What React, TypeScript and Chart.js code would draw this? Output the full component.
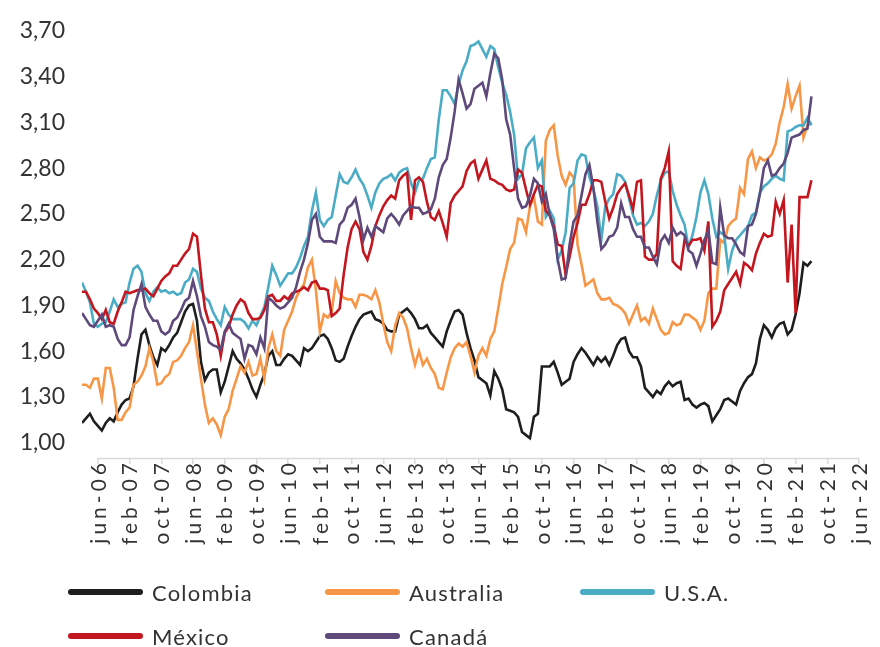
import React, { useEffect, useRef } from 'react';
import { Chart, registerables } from 'chart.js';

Chart.register(...registerables);

// Monthly observations, first value = feb-06 (month index -4 relative to jun-06), last = jun-21
const START_MONTH = -4;

const colombia = [
  1.13, 1.16, 1.19, 1.14,
  1.11, 1.08, 1.13, 1.16, 1.14, 1.20, 1.25, 1.28, 1.29, 1.37,
  1.55, 1.71, 1.74, 1.64, 1.56, 1.51, 1.62, 1.60, 1.64, 1.69,
  1.72, 1.79, 1.86, 1.90, 1.91, 1.80, 1.53, 1.41, 1.46, 1.48,
  1.48, 1.33, 1.40, 1.50, 1.60, 1.55, 1.52, 1.48, 1.42, 1.35,
  1.30, 1.38, 1.45, 1.57, 1.60, 1.51, 1.51, 1.55, 1.58, 1.57,
  1.54, 1.51, 1.62, 1.60, 1.62, 1.66, 1.70, 1.71, 1.68, 1.62,
  1.54, 1.53, 1.55, 1.63, 1.70, 1.76, 1.81, 1.84, 1.85, 1.86,
  1.81, 1.80, 1.78, 1.74, 1.73, 1.73, 1.84, 1.86, 1.88, 1.85,
  1.81, 1.75, 1.75, 1.77, 1.72, 1.69, 1.66, 1.63, 1.73, 1.80,
  1.86, 1.87, 1.84, 1.72, 1.62, 1.54, 1.43, 1.41, 1.39, 1.31,
  1.47, 1.42, 1.35, 1.22, 1.21, 1.20, 1.17, 1.07, 1.05, 1.03,
  1.17, 1.19, 1.50, 1.50, 1.50, 1.53, 1.46, 1.38, 1.40, 1.42,
  1.53, 1.58, 1.62, 1.59, 1.55, 1.51, 1.56, 1.53, 1.56, 1.51,
  1.57, 1.64, 1.68, 1.69, 1.60, 1.56, 1.56, 1.50, 1.36, 1.33,
  1.30, 1.34, 1.32, 1.37, 1.40, 1.37, 1.39, 1.40, 1.28, 1.29,
  1.25, 1.23, 1.25, 1.26, 1.24, 1.14, 1.18, 1.22, 1.28, 1.29,
  1.27, 1.25, 1.34, 1.39, 1.43, 1.45, 1.52, 1.68, 1.77, 1.74,
  1.69, 1.75, 1.78, 1.79, 1.71, 1.74, 1.84, 1.98, 2.18, 2.16, 2.19,
];

const australia = [
  1.38, 1.38, 1.36, 1.42,
  1.42, 1.29, 1.49, 1.49, 1.36, 1.15, 1.15, 1.20, 1.23, 1.38,
  1.40, 1.44, 1.50, 1.62, 1.53, 1.38, 1.39, 1.43, 1.45, 1.53,
  1.54, 1.57, 1.62, 1.66, 1.77, 1.60, 1.42, 1.25, 1.13, 1.16,
  1.12, 1.05, 1.17, 1.22, 1.34, 1.42, 1.50, 1.46, 1.53, 1.44,
  1.45, 1.55, 1.42, 1.62, 1.71, 1.60, 1.57, 1.74, 1.80, 1.86,
  1.95, 2.00, 2.04, 2.15, 2.20, 2.00, 1.73, 1.84, 1.82, 1.86,
  2.06, 1.98, 1.95, 1.94, 1.94, 1.89, 1.97, 1.97, 1.96, 1.94,
  2.00, 1.92, 1.78, 1.66, 1.60, 1.77, 1.85, 1.82, 1.75, 1.62,
  1.51, 1.60, 1.51, 1.55, 1.49, 1.45, 1.36, 1.35, 1.46, 1.56,
  1.62, 1.65, 1.63, 1.66, 1.57, 1.46, 1.57, 1.62, 1.57, 1.68,
  1.73, 1.88, 2.04, 2.15, 2.27, 2.31, 2.47, 2.46, 2.38, 2.55,
  2.61, 2.45, 2.43, 2.98, 3.05, 3.08, 2.88, 2.75, 2.69, 2.77,
  2.74, 2.30, 2.17, 2.03, 2.05, 2.07, 1.98, 1.94, 1.94, 1.95,
  1.91, 1.90, 1.88, 1.85, 1.78, 1.84, 1.90, 1.80, 1.82, 1.78,
  1.88, 1.81, 1.74, 1.71, 1.72, 1.79, 1.77, 1.78, 1.84, 1.84,
  1.82, 1.80, 1.74, 1.80, 1.98, 2.01, 2.01, 2.33, 2.31, 2.42,
  2.45, 2.47, 2.67, 2.63, 2.86, 2.91, 2.80, 2.87, 2.85, 2.86,
  2.89, 2.96, 3.10, 3.20, 3.35, 3.19, 3.27, 3.34, 3.00, 3.08, 3.10,
];

const usa = [
  2.05, 1.99, 1.92, 1.78,
  1.76, 1.78, 1.79, 1.86, 1.94, 1.89, 1.91, 1.92, 2.05, 2.14,
  2.16, 2.12, 1.98, 1.93, 1.99, 2.02, 1.99, 2.00, 1.98, 1.99,
  1.97, 1.98, 2.05, 2.07, 2.14, 2.12, 2.01, 1.95, 1.93, 1.86,
  1.81, 1.77, 1.89, 1.84, 1.81, 1.81, 1.81, 1.79, 1.75, 1.80,
  1.77, 1.83, 1.89, 2.02, 2.16, 2.10, 2.03, 2.07, 2.11, 2.11,
  2.15, 2.21, 2.29, 2.35, 2.52, 2.64, 2.46, 2.42, 2.46, 2.48,
  2.62, 2.76, 2.71, 2.70, 2.74, 2.79, 2.73, 2.69, 2.62, 2.54,
  2.64, 2.70, 2.73, 2.74, 2.76, 2.72, 2.77, 2.79, 2.80, 2.70,
  2.64, 2.72, 2.73, 2.80, 2.86, 2.87, 3.12, 3.31, 3.31, 3.27,
  3.22, 3.35, 3.44, 3.50, 3.60, 3.61, 3.63, 3.58, 3.53, 3.60,
  3.58, 3.46, 3.36, 3.28, 3.17, 3.02, 2.73, 2.76, 2.93, 2.97,
  3.00, 2.80, 2.85, 2.48, 2.52, 2.47, 2.20, 2.26, 2.38, 2.67,
  2.70, 2.85, 2.89, 2.88, 2.74, 2.66, 2.55, 2.33, 2.55, 2.60,
  2.63, 2.76, 2.75, 2.71, 2.60, 2.49, 2.43, 2.44, 2.42, 2.45,
  2.50, 2.62, 2.72, 2.77, 2.78, 2.65, 2.56, 2.49, 2.43, 2.28,
  2.36, 2.48, 2.64, 2.72, 2.63, 2.47, 2.35, 2.38, 2.36, 2.14,
  2.26, 2.33, 2.36, 2.39, 2.42, 2.49, 2.51, 2.64, 2.68, 2.70,
  2.73, 2.75, 2.73, 2.72, 3.04, 3.05, 3.07, 3.08, 3.08, 3.13, 3.08,
];

const mexico = [
  1.99, 1.99, 1.94, 1.88,
  1.85, 1.81, 1.87, 1.79, 1.78, 1.86, 1.92, 1.99, 1.98, 1.99,
  2.00, 2.00, 2.01, 1.98, 1.96, 2.01, 2.06, 2.09, 2.11, 2.16,
  2.16, 2.20, 2.24, 2.27, 2.37, 2.35, 2.10, 1.88, 1.79, 1.79,
  1.71, 1.57, 1.72, 1.76, 1.84, 1.90, 1.94, 1.92, 1.85, 1.81,
  1.81, 1.82, 1.87, 1.96, 1.97, 1.93, 1.93, 1.96, 1.94, 1.98,
  1.99, 2.00, 2.02, 2.00, 2.05, 2.06, 2.01, 2.01, 2.00, 1.83,
  1.85, 1.88, 2.10, 2.28, 2.40, 2.45, 2.40, 2.25, 2.20, 2.29,
  2.42, 2.49, 2.55, 2.59, 2.62, 2.60, 2.72, 2.75, 2.77, 2.46,
  2.72, 2.74, 2.71, 2.58, 2.48, 2.46, 2.52, 2.44, 2.35, 2.57,
  2.62, 2.65, 2.68, 2.78, 2.83, 2.85, 2.73, 2.79, 2.85, 2.73,
  2.72, 2.70, 2.69, 2.66, 2.65, 2.66, 2.79, 2.77, 2.66, 2.56,
  2.63, 2.69, 2.68, 2.52, 2.49, 2.42, 2.30, 2.29, 2.10, 2.22,
  2.35, 2.44, 2.56, 2.56, 2.63, 2.72, 2.72, 2.71, 2.58, 2.47,
  2.54, 2.63, 2.67, 2.70, 2.62, 2.53, 2.71, 2.72, 2.22, 2.20,
  2.20, 2.24, 2.73, 2.80, 2.91, 2.19, 2.16, 2.14, 2.33, 2.29,
  2.33, 2.33, 2.34, 2.26, 2.45, 1.76, 1.80, 1.86, 2.00, 2.04,
  2.08, 2.12, 2.04, 2.18, 2.16, 2.13, 2.24, 2.31, 2.37, 2.35,
  2.36, 2.58, 2.50, 2.59, 2.05, 2.43, 1.85, 2.61, 2.61, 2.61, 2.72,
];

const canada = [
  1.85, 1.81, 1.77, 1.76,
  1.80, 1.84, 1.76, 1.77, 1.76, 1.68, 1.64, 1.64, 1.69, 1.87,
  1.96, 2.04, 1.89, 1.84, 1.80, 1.80, 1.73, 1.71, 1.73, 1.80,
  1.82, 1.87, 1.93, 1.95, 2.06, 1.96, 1.83, 1.76, 1.66, 1.64,
  1.63, 1.61, 1.73, 1.78, 1.72, 1.70, 1.68, 1.55, 1.64, 1.63,
  1.58, 1.69, 1.62, 1.95, 1.93, 1.90, 1.88, 1.89, 1.92, 1.95,
  2.02, 2.12, 2.20, 2.31, 2.46, 2.50, 2.35, 2.32, 2.32, 2.32,
  2.31, 2.43, 2.46, 2.54, 2.56, 2.60, 2.48, 2.33, 2.41, 2.35,
  2.42, 2.40, 2.38, 2.47, 2.50, 2.47, 2.43, 2.49, 2.52, 2.55,
  2.54, 2.54, 2.50, 2.51, 2.53, 2.60, 2.74, 2.82, 2.86, 3.00,
  3.17, 3.38, 3.29, 3.19, 3.22, 3.32, 3.34, 3.36, 3.27, 3.42,
  3.55, 3.52, 3.38, 3.12, 3.02, 2.80, 2.60, 2.54, 2.55, 2.62,
  2.73, 2.70, 2.58, 2.63, 2.49, 2.40, 2.20, 2.07, 2.08, 2.30,
  2.45, 2.49, 2.62, 2.76, 2.82, 2.67, 2.45, 2.27, 2.30, 2.35,
  2.36, 2.41, 2.57, 2.48, 2.48, 2.40, 2.35, 2.35, 2.28, 2.28,
  2.22, 2.17, 2.32, 2.36, 2.31, 2.41, 2.36, 2.38, 2.36, 2.26,
  2.24, 2.16, 2.24, 2.33, 2.39, 2.18, 2.17, 2.54, 2.36, 2.34,
  2.34, 2.30, 2.25, 2.23, 2.42, 2.43, 2.50, 2.63, 2.80, 2.85,
  2.75, 2.76, 2.80, 2.83, 2.90, 3.00, 3.01, 3.02, 3.05, 3.06, 3.27,
];

const xTickLabels = [
  'jun-06', 'feb-07', 'oct-07', 'jun-08', 'feb-09', 'oct-09', 'jun-10', 'feb-11', 'oct-11',
  'jun-12', 'feb-13', 'oct-13', 'jun-14', 'feb-15', 'oct-15', 'jun-16', 'feb-17', 'oct-17',
  'jun-18', 'feb-19', 'oct-19', 'jun-20', 'feb-21', 'oct-21', 'jun-22',
];
const xTickStep = 8; // months between labels
const yTicks = [1.0, 1.3, 1.6, 1.9, 2.2, 2.5, 2.8, 3.1, 3.4, 3.7];

const seriesNames = ['Colombia', 'Australia', 'U.S.A.', 'México', 'Canadá'];
const seriesColors = ['#1e1e1e', '#F79646', '#4BACC6', '#C3161F', '#5F497A'];
const seriesValues = [colombia, australia, usa, mexico, canada];

const FONT = 'Lato, "Open Sans", sans-serif';
const TEXT_COLOR = '#333333';

const xLabelsPlugin = {
  id: 'xLabelsPlugin',
  afterDraw(chart: any) {
    const { ctx, chartArea, scales } = chart;
    const xs = scales.x;
    ctx.save();
    // axis line
    ctx.strokeStyle = '#d9d9d9';
    ctx.lineWidth = 1.5;
    ctx.beginPath();
    ctx.moveTo(xs.getPixelForValue(0), chartArea.bottom + 0.5);
    ctx.lineTo(xs.getPixelForValue((xTickLabels.length - 1) * xTickStep), chartArea.bottom + 0.5);
    ctx.stroke();
    // rotated labels
    ctx.fillStyle = TEXT_COLOR;
    ctx.font = '21px ' + FONT;
    (ctx as any).letterSpacing = '4px';
    ctx.textAlign = 'right';
    ctx.textBaseline = 'middle';
    xTickLabels.forEach((lab, i) => {
      const px = xs.getPixelForValue(i * xTickStep);
      ctx.save();
      ctx.translate(px + 1, chartArea.bottom + 1);
      ctx.rotate(-Math.PI / 2);
      ctx.fillText(lab, 0, 0);
      ctx.restore();
    });
    ctx.restore();
  },
};

export default function App() {
  const canvasRef = useRef<HTMLCanvasElement | null>(null);

  useEffect(() => {
    const canvas = canvasRef.current;
    if (!canvas) return;
    const datasets = seriesValues.map((vals, si) => ({
      label: seriesNames[si],
      data: vals.map((v, k) => ({ x: START_MONTH + k, y: v })),
      borderColor: seriesColors[si],
      backgroundColor: seriesColors[si],
      borderWidth: 2.6,
      pointRadius: 0,
      tension: 0,
      fill: false,
      order: seriesValues.length - si,
    }));
    const chart = new Chart(canvas, {
      type: 'line',
      data: { datasets },
      plugins: [xLabelsPlugin],
      options: {
        animation: false,
        responsive: false,
        devicePixelRatio: 1,
        layout: { padding: { left: 0, right: 21, top: 22, bottom: 0 } },
        plugins: { legend: { display: false }, tooltip: { enabled: false } },
        scales: {
          x: {
            type: 'linear',
            min: START_MONTH,
            max: (xTickLabels.length - 1) * xTickStep,
            afterBuildTicks: (scale: any) => {
              scale.ticks = xTickLabels.map((_, i) => ({ value: i * xTickStep }));
            },
            afterFit: (scale: any) => {
              scale.height = 189;
            },
            ticks: { display: false },
            border: { display: false },
            grid: {
              display: true,
              drawOnChartArea: false,
              drawTicks: true,
              tickLength: 6,
              color: '#d9d9d9',
              lineWidth: 1.5,
            },
          },
          y: {
            type: 'linear',
            min: 0.9,
            max: 3.7,
            afterBuildTicks: (scale: any) => {
              scale.ticks = yTicks.map((v) => ({ value: v }));
            },
            afterFit: (scale: any) => {
              scale.width = 82;
            },
            ticks: {
              padding: 17,
              color: TEXT_COLOR,
              font: { family: FONT, size: 23 },
              callback: (v: any) => Number(v).toFixed(2).replace('.', ','),
            },
            border: { display: false },
            grid: { display: false, drawTicks: false },
          },
        },
      },
    });
    return () => chart.destroy();
  }, []);

  const legendRows = [
    [0, 1, 2],
    [3, 4],
  ];
  const colX = [68, 325, 580];
  const rowY = [592, 636];

  return (
    <div
      style={{
        position: 'fixed',
        left: 0,
        top: 0,
        width: 880,
        height: 647,
        background: '#ffffff',
        overflow: 'hidden',
      }}
    >
      <canvas ref={canvasRef} width={880} height={647} style={{ width: 880, height: 647, display: 'block' }} />
      {legendRows.map((row, ri) =>
        row.map((si, ci) => (
          <div
            key={si}
            style={{
              position: 'absolute',
              left: colX[ci],
              top: rowY[ri] - 15,
              height: 30,
              display: 'flex',
              alignItems: 'center',
            }}
          >
            <span
              style={{
                display: 'inline-block',
                width: 75,
                height: 6,
                borderRadius: 3,
                background: seriesColors[si],
                marginRight: 9,
              }}
            />
            <span
              style={{
                fontFamily: FONT,
                fontSize: 22,
                letterSpacing: '1.2px',
                color: TEXT_COLOR,
                whiteSpace: 'nowrap',
              }}
            >
              {seriesNames[si]}
            </span>
          </div>
        ))
      )}
    </div>
  );
}
